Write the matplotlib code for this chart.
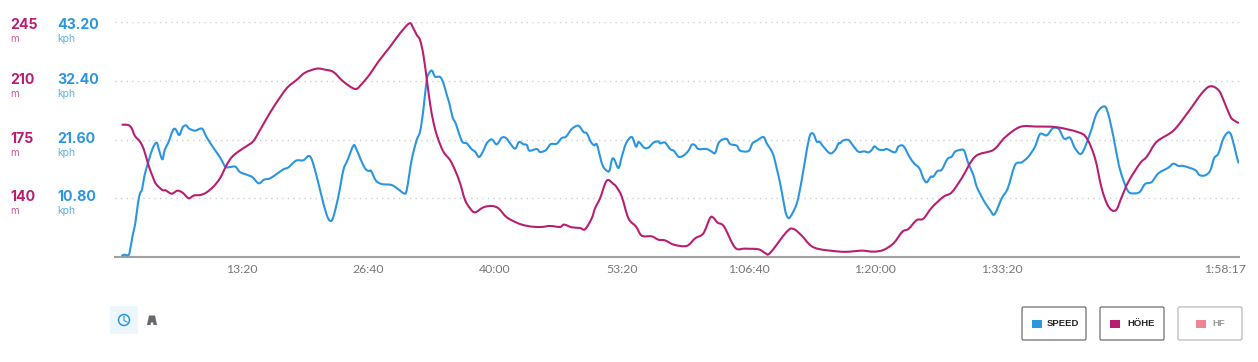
import matplotlib
matplotlib.use("Agg")
import matplotlib.pyplot as plt
import numpy as np
from matplotlib.patches import Rectangle, FancyBboxPatch, Circle, Polygon, PathPatch
from matplotlib.path import Path
from matplotlib.transforms import ScaledTranslation

# time in seconds, speed in kph
speed_t = [42, 57, 86, 99, 112, 128, 145, 158, 171, 187, 211, 238, 263, 278, 299, 314, 339, 366, 383, 406,
           427, 448, 469, 505, 537, 554, 579, 621, 663, 697, 726, 760, 789, 832, 869, 907, 941, 979, 1021, 1063,
           1095, 1143, 1189, 1221, 1242, 1274, 1305, 1337, 1360, 1379, 1410, 1442, 1467, 1505, 1522, 1551, 1579, 1600, 1617, 1648,
           1684, 1747, 1789, 1825, 1842, 1873, 1905, 1926, 1947, 1968, 1985, 2002, 2021, 2053, 2074, 2095, 2111, 2132, 2153, 2175,
           2196, 2221, 2253, 2274, 2299, 2326, 2347, 2379, 2410, 2442, 2469, 2495, 2526, 2551, 2579, 2600, 2617, 2663, 2684, 2716,
           2730, 2752, 2789, 2821, 2848, 2884, 2926, 2958, 2979, 3004, 3025, 3042, 3063, 3080, 3105, 3122, 3137, 3151, 3179, 3200,
           3227, 3263, 3290, 3307, 3341, 3368, 3400, 3431, 3442, 3473, 3505, 3530, 3558, 3589, 3621, 3642, 3663, 3684, 3736, 3768,
           3789, 3810, 3831, 3863, 3884, 3926, 3947, 4000, 4025, 4052, 4094, 4115, 4153, 4178, 4204, 4231, 4246, 4263, 4305, 4336,
           4368, 4389, 4410, 4431, 4448, 4473, 4515, 4547, 4568, 4578, 4595, 4631, 4662, 4694, 4730, 4757, 4778, 4795, 4820, 4852,
           4873, 4925, 4946, 4978, 5016, 5045, 5079, 5104, 5125, 5151, 5167, 5193, 5220, 5256, 5283, 5304, 5336, 5361, 5388, 5420,
           5441, 5483, 5525, 5553, 5599, 5637, 5683, 5725, 5767, 5809, 5841, 5883, 5921, 5959, 5993, 6030, 6062, 6104, 6157, 6199,
           6247, 6273, 6304, 6336, 6363, 6399, 6441, 6472, 6504, 6546, 6588, 6651, 6683, 6715, 6746, 6820, 6847, 6883, 6915, 6940,
           6967, 6999, 7030, 7051, 7083, 7096]
speed = [0.18, 0.43, 0.37, 1.9, 4.04, 6.19, 9.86, 11.7, 12.44, 15.07, 17.52, 19.97, 21.02, 19.67, 17.95, 19.67, 21.2, 23.34, 23.47, 22.42,
         23.83, 24.2, 23.59, 23.22, 23.59, 23.47, 22.0, 20.1, 18.32, 16.6, 16.54, 16.6, 15.62, 15.13, 14.64, 13.54, 14.21, 14.46, 15.26, 16.11,
         16.48, 17.71, 17.77, 18.56, 17.95, 14.77, 11.09, 7.72, 6.62, 7.41, 11.09, 15.99, 17.71, 20.46, 19.97, 17.95, 16.3, 15.81, 15.81, 14.03,
         13.42, 13.23, 12.44, 11.7, 12.32, 17.83, 21.51, 23.04, 27.02, 32.53, 33.88, 34.25, 33.15, 33.09, 31.92, 29.78, 28.25, 25.67, 24.45, 22.42,
         21.08, 20.89, 19.79, 19.36, 18.38, 19.55, 20.89, 21.63, 20.71, 21.93, 21.87, 20.89, 19.91, 21.14, 20.71, 20.59, 19.55, 19.85, 19.3, 19.55,
         19.97, 20.77, 20.83, 21.87, 22.12, 23.53, 24.14, 22.98, 22.73, 21.2, 20.53, 20.71, 18.44, 16.73, 15.87, 15.87, 17.83, 18.01, 16.36, 18.44,
         20.89, 22.06, 20.28, 21.14, 20.1, 20.1, 21.02, 21.26, 20.89, 21.02, 19.85, 19.48, 18.44, 18.63, 19.55, 20.65, 20.53, 19.85, 19.85, 19.36,
         19.12, 20.89, 21.51, 21.69, 20.77, 20.46, 19.55, 19.48, 20.89, 21.38, 22.06, 20.89, 19.05, 16.3, 12.93, 8.64, 7.35, 7.35, 9.86, 14.15,
         19.67, 22.42, 22.61, 21.2, 21.2, 20.28, 19.05, 19.67, 20.89, 20.89, 21.38, 21.51, 20.4, 19.36, 19.42, 19.24, 19.67, 20.34, 19.79, 19.67,
         19.85, 19.24, 20.28, 20.4, 18.44, 17.22, 16.3, 14.46, 13.72, 14.77, 14.77, 15.81, 16.05, 18.01, 18.44, 19.36, 19.67, 19.55, 17.22, 15.07,
         12.93, 10.48, 8.64, 7.84, 10.78, 12.62, 16.91, 17.4, 18.44, 20.28, 22.61, 22.36, 23.65, 23.53, 21.75, 21.93, 19.97, 19.05, 22.73, 26.41,
         27.69, 26.1, 22.12, 17.22, 14.46, 12.01, 11.7, 12.01, 13.42, 13.79, 15.38, 16.42, 17.16, 16.73, 16.73, 15.99, 15.07, 15.01, 15.87, 18.14,
         19.05, 21.81, 22.92, 22.12, 18.44, 17.22]

# time in seconds, elevation in m
hoehe_t = [42, 84, 105, 126, 158, 183, 211, 238, 259, 299, 320, 358, 394, 427, 465, 499, 537, 575, 621, 663,
           705, 737, 779, 832, 874, 916, 958, 1010, 1084, 1147, 1200, 1274, 1326, 1379, 1442, 1516, 1558, 1610, 1663, 1737,
           1800, 1859, 1884, 1905, 1926, 1947, 1968, 1989, 2010, 2035, 2073, 2115, 2147, 2179, 2210, 2242, 2273, 2326, 2379, 2421,
           2469, 2515, 2568, 2631, 2694, 2747, 2810, 2835, 2884, 2936, 2968, 3010, 3031, 3063, 3105, 3147, 3168, 3200, 3242, 3290,
           3326, 3389, 3431, 3473, 3530, 3610, 3663, 3715, 3757, 3778, 3804, 3846, 3915, 3978, 4063, 4105, 4136, 4242, 4284, 4336,
           4393, 4452, 4578, 4641, 4715, 4789, 4852, 4915, 4972, 5010, 5062, 5104, 5157, 5231, 5283, 5346, 5431, 5546, 5620, 5715,
           5820, 5946, 6083, 6136, 6188, 6230, 6273, 6319, 6357, 6399, 6472, 6515, 6578, 6683, 6778, 6862, 6915, 6967, 6999, 7041,
           7062, 7096]
hoehe = [183.8, 183.6, 181.7, 177.1, 173.7, 168.8, 159.8, 152.9, 148.5, 144.9, 144.7, 142.7, 144.5, 143.3, 140.0, 141.7, 141.9, 143.3, 146.9, 151.9,
         159.8, 164.4, 167.8, 171.1, 174.1, 180.7, 187.6, 195.6, 205.5, 210.5, 214.8, 217.2, 216.6, 215.2, 209.5, 205.1, 208.1, 214.0, 221.4, 230.3,
         238.3, 244.2, 241.2, 237.3, 234.3, 225.4, 211.4, 196.6, 185.6, 176.7, 167.8, 162.8, 156.8, 148.9, 139.0, 134.0, 131.6, 134.6, 135.4, 134.0,
         129.0, 126.4, 124.3, 123.1, 122.9, 123.5, 122.9, 124.3, 122.7, 122.3, 121.5, 128.0, 134.0, 140.0, 150.5, 148.5, 146.5, 140.9, 128.0, 123.1,
         117.7, 117.3, 115.3, 114.9, 112.3, 111.6, 116.1, 119.1, 128.2, 128.4, 125.5, 123.1, 110.6, 110.0, 109.6, 107.4, 107.4, 120.1, 121.7, 117.7,
         111.8, 109.6, 108.2, 108.2, 108.8, 108.2, 109.2, 113.1, 120.1, 121.7, 127.0, 127.8, 134.4, 140.9, 143.5, 151.9, 164.8, 168.8, 176.3, 182.5,
         182.7, 182.3, 179.3, 175.7, 163.8, 145.9, 135.0, 132.8, 140.9, 149.9, 160.8, 164.8, 173.7, 180.3, 191.6, 202.5, 206.7, 204.5, 198.5, 189.0,
         186.6, 184.8]

speed_ticks = [10.8, 21.6, 32.4, 43.2]
speed_labels = ["10.80", "21.60", "32.40", "43.20"]
hoehe_ticks = [140, 175, 210, 245]
time_ticks = [800, 1600, 2400, 3200, 4000, 4800, 5600, 7097]
time_labels = ["13:20", "26:40", "40:00", "53:20", "1:06:40", "1:20:00", "1:33:20", "1:58:17"]
legend_names = ["SPEED", "HÖHE", "HF"]

BLUE = "#2a96e0"
MAGENTA = "#b81f70"
PINK = "#ec8494"
W, H = 1258, 362


def smooth_path(xs, ys):
    # bezier segments through every read point, the site draws rounded curves
    p = np.column_stack([xs, ys])
    prev_p = np.vstack([p[0], p[:-1]])
    next_p = np.vstack([p[1:], p[-1]])
    c1 = p + (next_p - prev_p) / 6
    next2 = np.vstack([p[2:], p[-1], p[-1]])
    c2 = next_p - (next2 - p) / 6
    verts = [p[0]]
    codes = [Path.MOVETO]
    for i in range(len(p) - 1):
        verts += [c1[i], c2[i], p[i + 1]]
        codes += [Path.CURVE4, Path.CURVE4, Path.CURVE4]
    return Path(verts, codes)


plt.rcParams["font.family"] = ["Inter", "DejaVu Sans"]

fig = plt.figure(figsize=(W / 100, H / 100), dpi=100)
ax = fig.add_axes([115 / W, 1 - 257 / H, 1124 / W, 235 / H])
ax.set_xlim(0, 7097)
ax.set_ylim(0, 43.2)
ax.add_patch(PathPatch(smooth_path(speed_t, speed), fc="none", ec=BLUE, lw=1.5, joinstyle="round", zorder=3))
ax.set_yticks(speed_ticks)
ax.set_yticklabels([])
ax.tick_params(axis="y", length=0)
ax.grid(axis="y", color="#cfcfcf", lw=1, linestyle=(0, (1, 3)))
ax.set_xticks(time_ticks)
ax.set_xticklabels(time_labels, fontsize=8.8, color="#777777", family="Lato")
ax.tick_params(axis="x", length=0, pad=5)
last = ax.get_xticklabels()[-1]
last.set_transform(last.get_transform() + ScaledTranslation(-14 / 100, 0, fig.dpi_scale_trans))
for side in ["top", "left", "right"]:
    ax.spines[side].set_visible(False)
ax.spines["bottom"].set_color("#a0a0a0")
ax.spines["bottom"].set_linewidth(1.5)

ax2 = ax.twinx()
ax2.set_ylim(105, 245)
ax2.add_patch(PathPatch(smooth_path(hoehe_t, hoehe), fc="none", ec=MAGENTA, lw=1.5, joinstyle="round", zorder=3))
ax2.set_yticks([])
for side in ax2.spines:
    ax2.spines[side].set_visible(False)

# overlay in picture pixels for the stacked axis labels, legend boxes and icons
over = fig.add_axes([0, 0, 1, 1])
over.set_xlim(0, W)
over.set_ylim(H, 0)
over.axis("off")
over.patch.set_alpha(0)

label_rows = [196, 138, 79, 24]
for i in range(4):
    y = label_rows[i]
    over.text(10, y + 1, str(hoehe_ticks[i]), color=MAGENTA, fontsize=10.2, fontweight="bold", va="center")
    over.text(10, y + 15, "m", color=MAGENTA, alpha=0.75, fontsize=7, va="center")
    over.text(57, y + 1, speed_labels[i], color=BLUE, fontsize=10.2, fontweight="bold", va="center")
    over.text(57, y + 15, "kph", color=BLUE, alpha=0.75, fontsize=7.5, va="center")

box_left = [1022, 1100, 1178]
swatch_left = [1032, 1110, 1196]
text_mid = [1063, 1141, 1219]
swatch_col = [BLUE, MAGENTA, PINK]
edge_col = ["#666666", "#666666", "#b5b5b5"]
text_col = ["#222222", "#222222", "#999999"]
for i in range(3):
    over.add_patch(FancyBboxPatch((box_left[i], 307), 64, 33, boxstyle="round,pad=0,rounding_size=1.5",
                                  fc="white", ec=edge_col[i], lw=0.85))
    over.add_patch(Rectangle((swatch_left[i], 320), 10, 8, fc=swatch_col[i], ec="none"))
    over.text(text_mid[i], 323.5, legend_names[i], color=text_col[i], fontsize=6.8, fontweight="bold",
              family="Liberation Sans", va="center", ha="center")

# clock button
over.add_patch(Rectangle((110, 306), 28, 28, fc="#edf6fd", ec="none"))
over.add_patch(Circle((124, 320), 5.5, fc="none", ec=BLUE, lw=1.1))
over.plot([124, 124, 127], [316.5, 320.5, 322], color=BLUE, lw=0.8)
# road icon
over.add_patch(Polygon([(147, 325), (149, 315.5), (155, 315.5), (157, 325), (153.5, 325), (153, 322.5),
                        (151, 322.5), (150.5, 325)], closed=True, fc="#666a70", ec="none"))

fig.savefig("out.png", dpi=100)
